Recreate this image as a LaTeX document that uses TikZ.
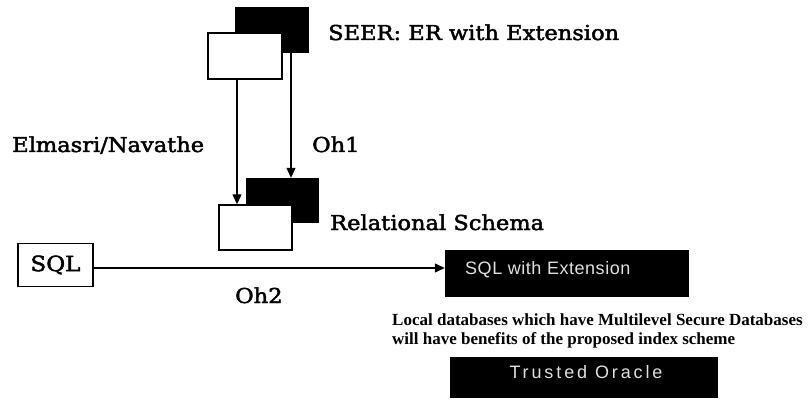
\documentclass[tikz,border=0pt]{standalone}
\usepackage{fontspec}
\usetikzlibrary{arrows.meta}
\newfontfamily\labfont[FakeStretch=1.1,FakeBold=2.2]{DejaVu Serif}
\newfontfamily\notefont{Liberation Serif}
\newfontfamily\boxfont[LetterSpace=3]{Liberation Sans}
\newfontfamily\boxwide[LetterSpace=16]{Liberation Sans}

\begin{document}
\begin{tikzpicture}[x=1pt,y=-1pt,
  back/.style={fill=black,inner sep=0pt},
  front/.style={fill=white,draw=black,line width=1.4pt,inner sep=0pt},
  lbl/.style={font=\labfont\fontsize{20.5}{24}\selectfont,inner sep=0pt,anchor=base west},
  note/.style={font=\notefont\bfseries\fontsize{17}{19}\selectfont,inner sep=0pt,anchor=base west},
  darkbox/.style={fill=black,inner sep=0pt},
  flow/.style={line width=1.2pt,-{Triangle[length=10pt,width=9pt]}}]
\useasboundingbox[fill=white] (0,0) rectangle (810,403);

% entity-relationship schema (stacked sheets)
\node[back, minimum width=74pt, minimum height=46pt] (erB) at (272,30) {};
\node[front, minimum width=74pt, minimum height=46pt] (erW) at (245,56) {};
\node[lbl] (seer) at (328,40) {SEER: ER with Extension};

% relational schema (stacked sheets)
\node[back, minimum width=73pt, minimum height=45pt] (relB) at (282.5,200.5) {};
\node[front, minimum width=73pt, minimum height=45pt] (relW) at (255.5,227.5) {};
\node[lbl] (rel) at (330,230) {Relational Schema};

% mappings
\draw[flow] ([xshift=-8pt]erW.south) -- ([xshift=-8pt]erW.south |- relW.north);
\draw[flow] ([xshift=19pt]erB.south) -- ([xshift=19pt]erB.south |- relB.north);
\node[lbl] (elna) at (12,152) {Elmasri/Navathe};
\node[lbl] (oh1) at (312,152) {Oh1};

% SQL to extended SQL
\node[draw=black, line width=1.4pt, inner sep=0pt, minimum width=75pt, minimum height=43pt,
      font=\labfont\fontsize{21}{24}\selectfont] (sql) at (55.5,265) {SQL};
\node[darkbox, minimum width=244pt, minimum height=47pt] (sqlx) at (567,273.5) {};
\node[font=\boxfont\fontsize{18}{20}\selectfont, text=white!88!black, inner sep=0pt, anchor=west]
  (sqlxt) at (465,270) {SQL with Extension};
\draw[flow] ([yshift=-3pt]sql.east) -- ([yshift=-3pt]sql.east -| sqlx.west);
\node[lbl] (oh2) at (235,303) {Oh2};

% note and trusted product
\node[note] (n1) at (392,325) {Local databases which have Multilevel Secure Databases};
\node[note] (n2) at (392,344) {will have benefits of the proposed index scheme};
\node[darkbox, minimum width=268pt, minimum height=41pt] (trus) at (584,377.5) {};
\node[font=\boxwide\fontsize{18}{20}\selectfont, text=white!88!black, inner sep=0pt]
  (trust) at (586,372) {Trusted Oracle};
\end{tikzpicture}
\end{document}
